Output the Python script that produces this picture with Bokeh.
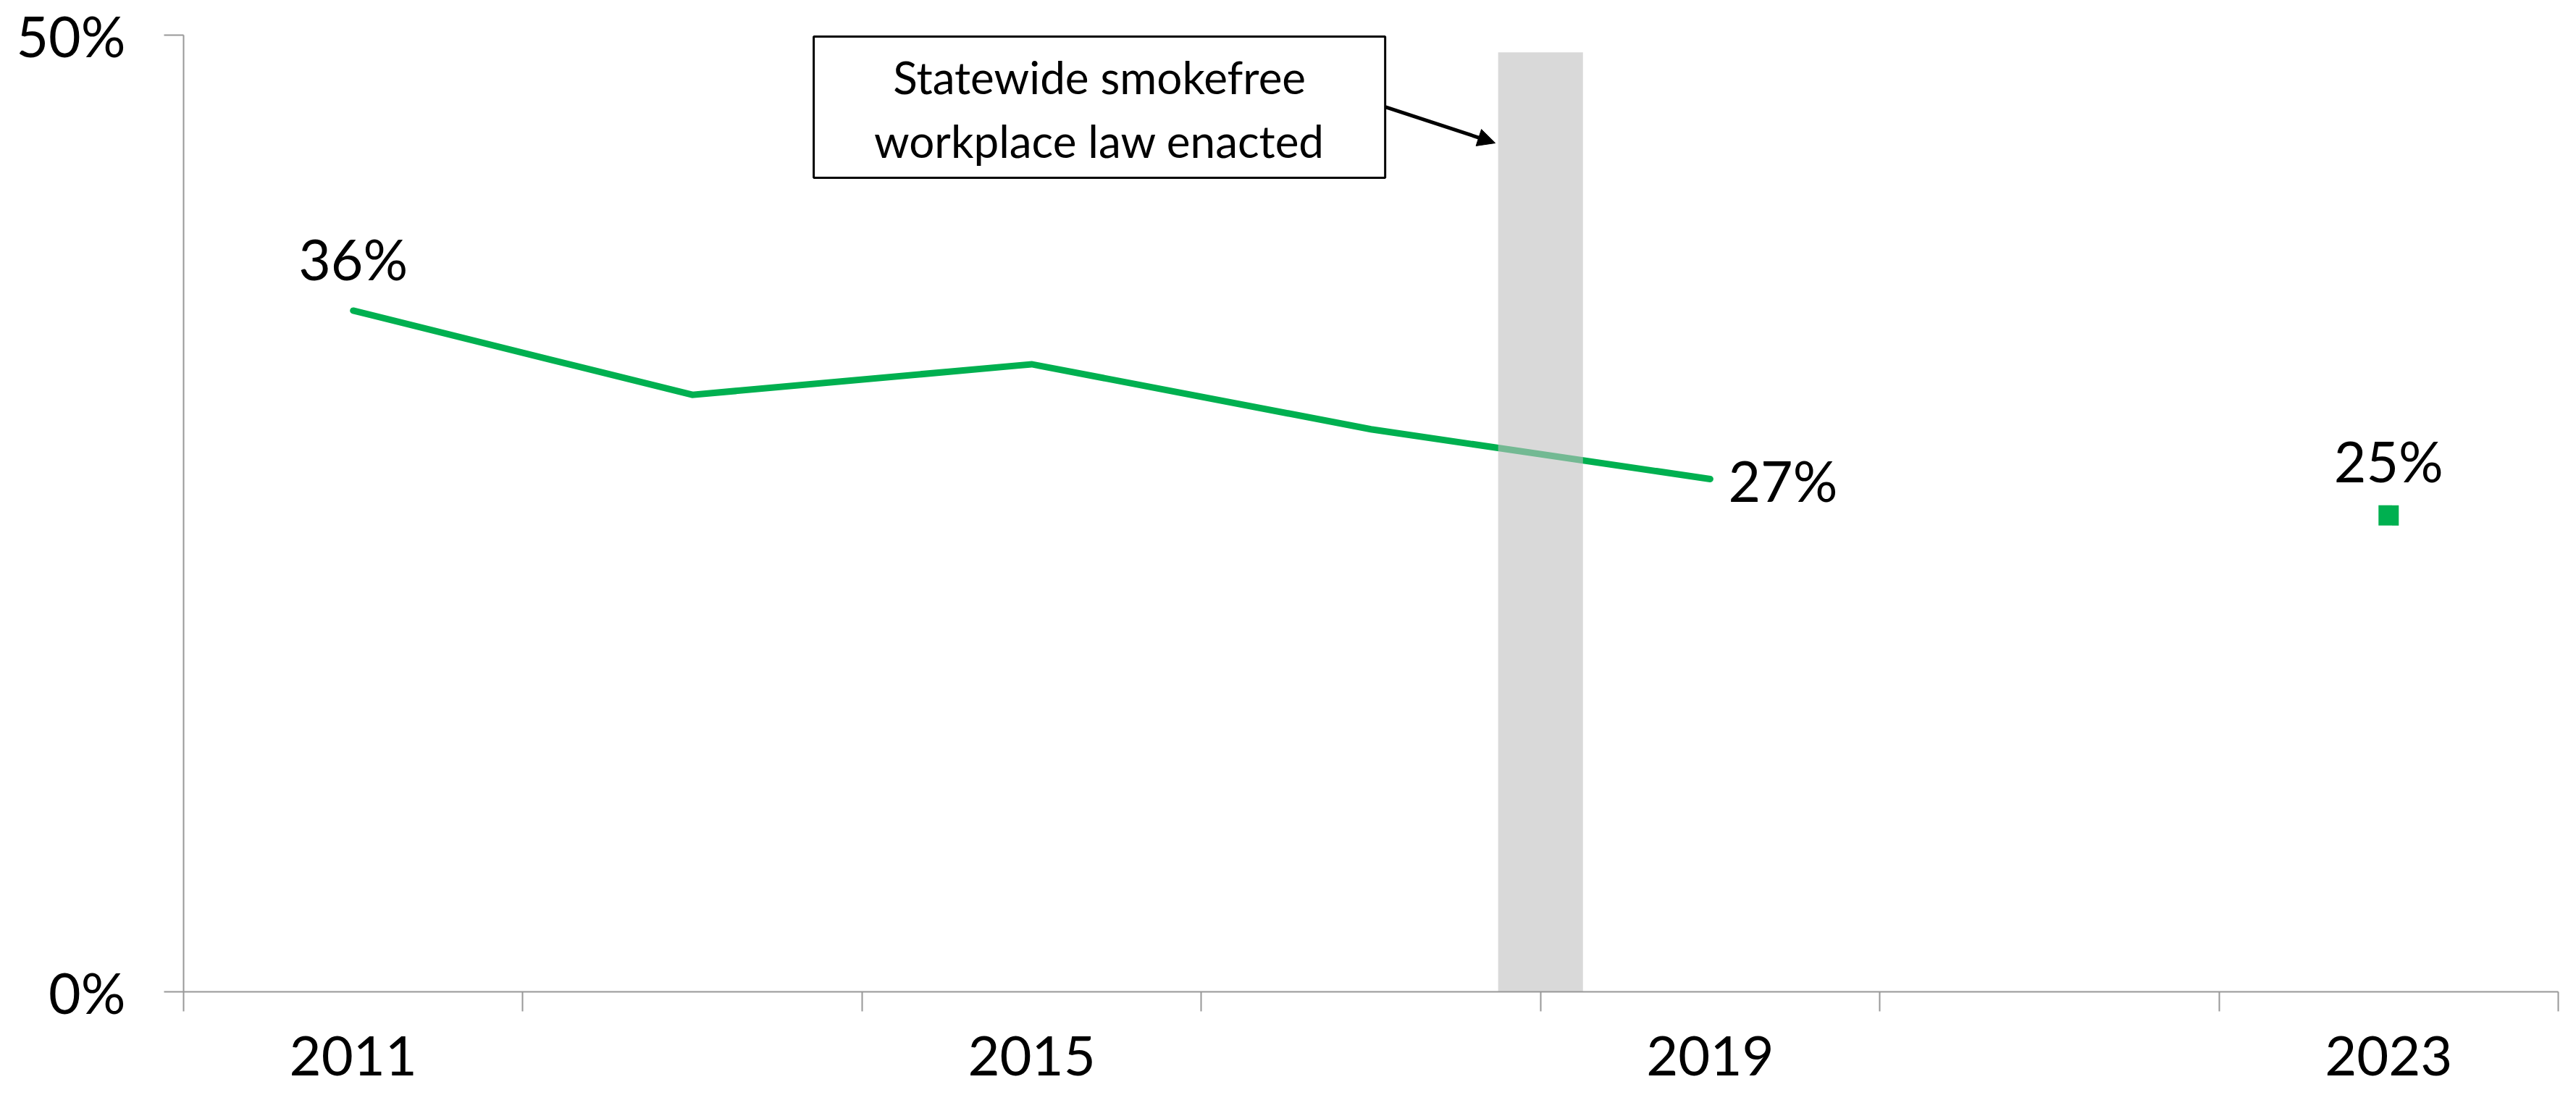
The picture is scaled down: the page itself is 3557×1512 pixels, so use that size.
from bokeh.plotting import figure
from bokeh.models import (Range1d, FixedTicker, PrintfTickFormatter, BoxAnnotation,
                          Label, Arrow, NormalHead)
from bokeh.core.properties import value
from bokeh.embed import file_html
from bokeh.resources import INLINE

# ---- data ----
years = [2011, 2013, 2015, 2017, 2019]
rates = [35.6, 31.2, 32.8, 29.4, 26.8]
years_new = [2023]
rates_new = [24.9]
labeled_years = [2011, 2015, 2019, 2023]
category_edges = [2010, 2012, 2014, 2016, 2018, 2020, 2022, 2024]
y_ticks = [0, 50]
law_year = [2018]
law_bar_top = [49.1]
annotation_lines = ["Statewide smokefree", "workplace law enacted"]

GREEN = "#00B050"
AXIS = "#989898"
FONT = "Lato"

p = figure(width=3557, height=1512,
           x_range=Range1d(category_edges[0], category_edges[-1]),
           y_range=Range1d(y_ticks[0], y_ticks[-1]),
           output_backend="svg", toolbar_location=None,
           min_border_left=253, min_border_right=25,
           min_border_top=48, min_border_bottom=143)
p.outline_line_color = None
p.grid.visible = False
p.background_fill_color = "white"
p.border_fill_color = "white"

# x axis
xa = p.xaxis[0]
xa.ticker = FixedTicker(ticks=labeled_years, minor_ticks=category_edges)
xa.formatter = PrintfTickFormatter(format="%d")
xa.axis_line_color = AXIS
xa.axis_line_width = 2
xa.major_tick_line_color = None
xa.major_tick_out = 0
xa.major_tick_in = 0
xa.minor_tick_line_color = AXIS
xa.minor_tick_line_width = 2
xa.minor_tick_out = 27
xa.minor_tick_in = 0
xa.major_label_text_font = FONT
xa.major_label_text_font_size = "76px"
xa.major_label_text_color = "black"
xa.major_label_standoff = 34

# y axis
ya = p.yaxis[0]
ya.ticker = FixedTicker(ticks=y_ticks, minor_ticks=[])
ya.formatter = PrintfTickFormatter(format="%d%%")
ya.axis_line_color = AXIS
ya.axis_line_width = 2
ya.major_tick_line_color = AXIS
ya.major_tick_line_width = 2
ya.major_tick_out = 27
ya.major_tick_in = 0
ya.minor_tick_line_color = None
ya.major_label_text_font = FONT
ya.major_label_text_font_size = "77px"
ya.major_label_text_color = "black"
ya.major_label_standoff = 53

# series
p.line(years, rates, line_color=GREEN, line_width=9, line_cap="round", line_join="miter")
p.scatter(years_new, rates_new, marker="square", size=28, fill_color=GREEN, line_color=None)

# law bar (drawn over line, semi-transparent)
p.vbar(x=law_year, top=law_bar_top, bottom=0, width=0.5,
       fill_color="#BFBFBF", fill_alpha=0.6, line_color=None)

# data labels
def pct(v):
    return f"{round(v)}%"

p.text(x=[years[0]], y=[rates[0]], text=[pct(rates[0])], text_align="center",
       text_baseline="alphabetic", y_offset=-72, text_font=value(FONT),
       text_font_size="77px", text_color="black")
p.text(x=[years[-1]], y=[rates[-1]], text=[pct(rates[-1])], text_align="left",
       text_baseline="alphabetic", x_offset=25, y_offset=2, text_font=value(FONT),
       text_font_size="77px", text_color="black")
p.text(x=years_new, y=rates_new, text=[pct(v) for v in rates_new], text_align="center",
       text_baseline="alphabetic", y_offset=-76, text_font=value(FONT),
       text_font_size="77px", text_color="black")

# annotation box
box_left, box_right, box_bottom, box_top = 2013.715, 2017.084, 42.54, 49.92
p.add_layout(BoxAnnotation(left=box_left, right=box_right, bottom=box_bottom, top=box_top,
                           fill_color="white", fill_alpha=1.0,
                           line_color="black", line_alpha=1.0, line_width=3))
cx = (box_left + box_right) / 2
for txt, yy in zip(annotation_lines, [47.81, 44.48]):
    p.add_layout(Label(x=cx, y=yy, text=txt, text_align="center",
                       text_baseline="alphabetic", text_font=FONT,
                       text_font_size="62px", text_color="black"))

p.add_layout(Arrow(end=NormalHead(size=24, fill_color="black", line_color="black"),
                   x_start=box_right, y_start=46.25, x_end=2017.733, y_end=44.36,
                   line_width=5, line_color="black"))

open("out.html", "w").write(file_html(p, INLINE))
